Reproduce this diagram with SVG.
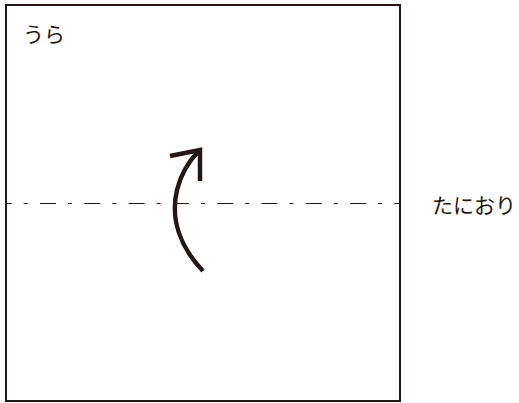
<svg xmlns="http://www.w3.org/2000/svg" width="519" height="403" viewBox="0 0 519 403">
<style>
.t{font-family:"Noto Sans CJK JP","Noto Sans",sans-serif;fill:#231815;font-size:21px}
.ln{fill:none;stroke:#231815}
</style>
<rect width="519" height="403" fill="#fff"/>
<g id="paper">
<rect class="ln" x="6" y="5" width="394" height="396" stroke-width="2"/>
<text class="t" x="23" y="42">うら</text>
</g>
<g id="fold">
<line class="ln" x1="6" y1="203.5" x2="400" y2="203.5" stroke-width="1" stroke-dasharray="16 12 4 12.3" stroke-dashoffset="10.3"/>
<text class="t" x="432" y="213">たにおり</text>
</g>
<g id="connectors">
<path class="ln" d="M203 271 C181 248 170 220 177 190 C181 174 188 162 198 152" stroke-width="4.5"/>
<path class="ln" d="M170 156 L200 150 L200 181" stroke-width="4.5"/>
</g>
</svg>
